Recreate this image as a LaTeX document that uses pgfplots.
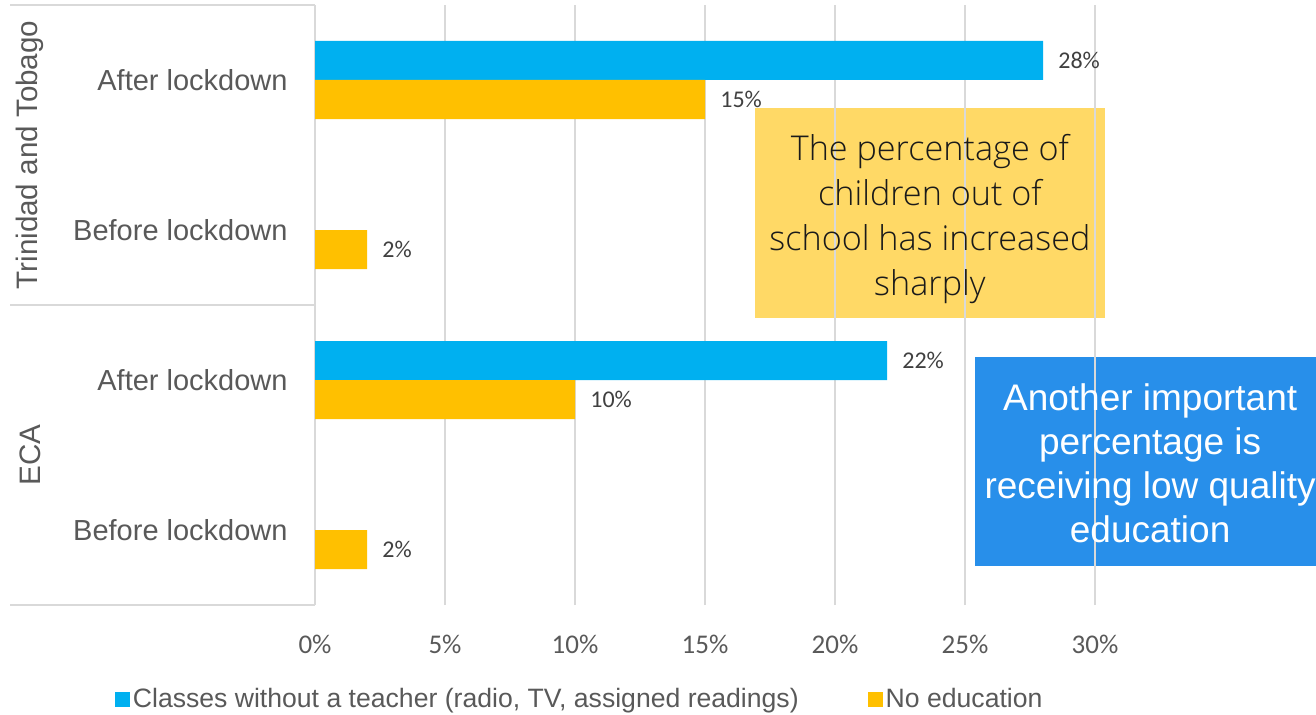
\documentclass[border=0pt]{standalone}
\usepackage{fontspec}
\setmainfont{Liberation Sans}
\newfontfamily\carlito{Carlito}
\IfFontExistsTF{Open Sans Light}
    {\newfontfamily\opensans{Open Sans Light}}
    {\newfontfamily\opensans{Open Sans}}
\usepackage{pgfplots}
\pgfplotsset{compat=1.18}

\definecolor{barblue}{HTML}{00B0F0}
\definecolor{barorange}{HTML}{FFC000}
\definecolor{yelbox}{HTML}{FFD966}
\definecolor{bluebox}{HTML}{288FEA}
\definecolor{gridgray}{HTML}{D9D9D9}
\definecolor{labgray}{HTML}{595959}
\definecolor{datgray}{HTML}{404040}
\definecolor{boxtext}{HTML}{1A1A1A}

\begin{document}
\begin{tikzpicture}
\begin{axis}[
    at={(157.5pt,54.5pt)}, anchor=south west,
    scale only axis, width=390pt, height=300pt,
    set layers, clip=false,
    xbar, bar width=19.5pt,
    xmin=0, xmax=30, ymin=-0.5, ymax=3.5,
    xtick={0,5,...,30},
    ytick={0,1,2,3},
    yticklabels={Before lockdown, After lockdown, Before lockdown, After lockdown},
    xmajorgrids,
    major grid style={gridgray, line width=0.75pt},
    axis line style={draw=none},
    major tick length=0pt,
    /pgf/number format/assume math mode=true,
    xticklabel={\pgfmathprintnumber{\tick}\%},
    xticklabel style={font=\carlito\fontsize{13.5}{16}\selectfont, text=labgray,
        anchor=north, inner sep=0pt, yshift=-15pt},
    yticklabel style={font=\fontsize{14.5}{17}\selectfont, text=labgray,
        anchor=east, inner sep=0pt, xshift=-13.5pt},
    point meta=x,
    nodes near coords={\pgfmathprintnumber{\pgfplotspointmeta}\%},
    every node near coord/.append style={font=\carlito\fontsize{12}{14}\selectfont,
        text=datgray, anchor=west, inner sep=0pt, xshift=7.5pt},
    legend columns=2,
    legend style={at={(0.34,-0.157)}, anchor=center, draw=none, fill=none,
        font=\fontsize{13.3}{16}\selectfont, text=labgray,
        nodes={inner sep=1.5pt},
        /tikz/every even column/.append style={column sep=33pt}},
    legend image code/.code={\fill[#1] (0pt,-3.75pt) rectangle (7.5pt,3.75pt);},
]
% annotation boxes sit under the grid
\begin{pgfonlayer}{axis background}
\fill[yelbox] (axis cs:16.92,2.813) rectangle (axis cs:30.38,1.413);
\fill[bluebox] (axis cs:25.38,1.153) rectangle (axis cs:39.04,-0.24);
\end{pgfonlayer}

\addplot[fill=barblue, draw=none, bar shift=9.75pt] coordinates {(28,3) (22,1)};
\addlegendentry{Classes without a teacher (radio, TV, assigned readings)}
\addplot[fill=barorange, draw=none, bar shift=-9.75pt] coordinates {(15,3) (2,2) (10,1) (2,0)};
\addlegendentry{No education}

% group separators on the left
\draw[gridgray, line width=0.75pt] ([xshift=-152.5pt]rel axis cs:0,1) -- (rel axis cs:0,1);
\draw[gridgray, line width=0.75pt] ([xshift=-152.5pt]rel axis cs:0,0.5) -- (rel axis cs:0,0.5);
\draw[gridgray, line width=0.75pt] ([xshift=-152.5pt]rel axis cs:0,0) -- (rel axis cs:0,0);
\node[rotate=90, font=\fontsize{14.8}{17}\selectfont, text=labgray]
    at ([xshift=-142.5pt]axis cs:0,2.5) {Trinidad and Tobago};
\node[rotate=90, font=\fontsize{14.8}{17}\selectfont, text=labgray]
    at ([xshift=-142.5pt]axis cs:0,0.5) {ECA};

\node[align=center, font=\opensans\fontsize{17.1}{22.5}\selectfont, text=boxtext]
    at (axis cs:23.65,2.07) {The percentage of\\children out of\\school has increased\\sharply};
\node[align=center, font=\fontsize{18.5}{22}\selectfont, text=white]
    at (axis cs:32.12,0.447) {Another important\\percentage is\\receiving low quality\\education};
\end{axis}
\pgfresetboundingbox
\useasboundingbox (0,0) rectangle (658pt,357pt);
\end{tikzpicture}
\end{document}
